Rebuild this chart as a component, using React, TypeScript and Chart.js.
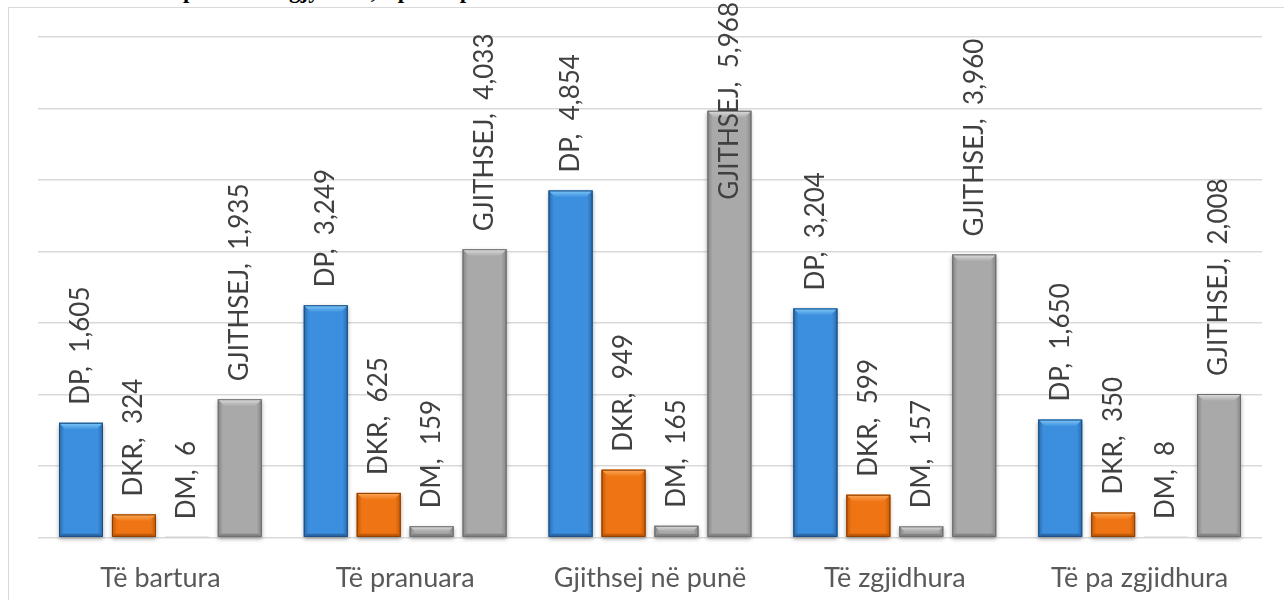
import React, { useEffect, useRef } from "react";
import { Chart, registerables } from "chart.js";

Chart.register(...registerables);

const titleText = "Numri i lëndëve për të tërë gjykatat, sipas departamenteve";
const categories = ["Të bartura", "Të pranuara", "Gjithsej në punë", "Të zgjidhura", "Të pa zgjidhura"];
const seriesNames = ["DP", "DKR", "DM", "GJITHSEJ"];
const dpValues = [1605, 3249, 4854, 3204, 1650];
const dkrValues = [324, 625, 949, 599, 350];
const dmValues = [6, 159, 165, 157, 8];
const totalValues = [1935, 4033, 5968, 3960, 2008];
const yMin = 0;
const yMax = 7000;
const yStep = 1000;

const palettes = [
  { base: "#3c8fde", light: "#7fcaf9", dark: "#2a6aab", edge: "#1d4d80" },
  { base: "#ef7514", light: "#fbaa58", dark: "#c25a06", edge: "#8a3d03" },
  { base: "#a9a9a9", light: "#dedede", dark: "#858585", edge: "#6c6c6c" },
  { base: "#a9a9a9", light: "#dedede", dark: "#858585", edge: "#6c6c6c" },
];

const fmt = (v: number) => v.toLocaleString("en-US");

const bevelPlugin = {
  id: "bevelBars",
  afterDatasetsDraw(chart: any) {
    const ctx = chart.ctx as CanvasRenderingContext2D;
    chart.data.datasets.forEach((ds: any, di: number) => {
      const meta = chart.getDatasetMeta(di);
      const pal = palettes[di];
      meta.data.forEach((el: any) => {
        const { x, y, base, width } = el.getProps(["x", "y", "base", "width"], true);
        const left = x - width / 2;
        const right = x + width / 2;
        const top = Math.min(y, base);
        const bottom = Math.max(y, base);
        const h = bottom - top;
        if (h < 1) return;
        const w = right - left;
        ctx.save();
        ctx.shadowColor = "rgba(0,0,0,0.35)";
        ctx.shadowBlur = 4;
        ctx.shadowOffsetY = 2;
        ctx.fillStyle = pal.base;
        ctx.fillRect(left, top, w, h);
        ctx.shadowColor = "transparent";
        const g = ctx.createLinearGradient(left, 0, right, 0);
        g.addColorStop(0, pal.dark);
        g.addColorStop(0.12, pal.base);
        g.addColorStop(0.88, pal.base);
        g.addColorStop(1, pal.dark);
        ctx.fillStyle = g;
        ctx.fillRect(left, top, w, h);
        const b = Math.min(7, h / 2, w / 2);
        const tg = ctx.createLinearGradient(0, top, 0, top + b);
        tg.addColorStop(0, pal.light);
        tg.addColorStop(1, pal.base);
        ctx.fillStyle = tg;
        ctx.beginPath();
        ctx.moveTo(left, top);
        ctx.lineTo(right, top);
        ctx.lineTo(right - b, top + b);
        ctx.lineTo(left + b, top + b);
        ctx.closePath();
        ctx.fill();
        const bb = Math.min(3, h / 3);
        ctx.fillStyle = pal.dark;
        ctx.beginPath();
        ctx.moveTo(left, bottom);
        ctx.lineTo(right, bottom);
        ctx.lineTo(right - bb, bottom - bb);
        ctx.lineTo(left + bb, bottom - bb);
        ctx.closePath();
        ctx.fill();
        ctx.strokeStyle = pal.edge;
        ctx.lineWidth = 1;
        ctx.strokeRect(left + 0.5, top + 0.5, w - 1, h - 1);
        ctx.restore();
      });
    });
    ctx.save();
    ctx.font = "26px Lato";
    ctx.fillStyle = "#404040";
    chart.data.datasets.forEach((ds: any, di: number) => {
      const meta = chart.getDatasetMeta(di);
      meta.data.forEach((el: any, i: number) => {
        const { x, y } = el.getProps(["x", "y"], true);
        const text = `${seriesNames[di]},  ${fmt(ds.data[i])}`;
        const tw = ctx.measureText(text).width;
        let startY = y - 18;
        if (startY - tw < 2) startY = 2 + tw;
        ctx.save();
        ctx.translate(x, startY);
        ctx.rotate(-Math.PI / 2);
        ctx.textAlign = "left";
        ctx.textBaseline = "middle";
        ctx.fillText(text, 0, 0);
        ctx.restore();
      });
    });
    ctx.restore();
  },
};

export default function App() {
  const canvasRef = useRef<HTMLCanvasElement | null>(null);

  useEffect(() => {
    if (!canvasRef.current) return;
    const valueSets = [dpValues, dkrValues, dmValues, totalValues];
    const chart = new Chart(canvasRef.current, {
      type: "bar",
      data: {
        labels: categories,
        datasets: seriesNames.map((name, i) => ({
          label: name,
          data: valueSets[i],
          backgroundColor: palettes[i].base,
          borderWidth: 0,
          categoryPercentage: 0.865,
          barPercentage: 0.83,
        })),
      },
      options: {
        responsive: false,
        animation: false,
        layout: { padding: { left: 38, right: 22, top: 37, bottom: 0 } },
        plugins: {
          legend: { display: false },
          title: { display: false },
          tooltip: { enabled: false },
        },
        scales: {
          x: {
            grid: { display: false, drawTicks: false },
            border: { display: false },
            ticks: {
              color: "#595959",
              font: { family: "Lato", size: 27 },
              padding: 24,
              maxRotation: 0,
              autoSkip: false,
            },
          },
          y: {
            min: yMin,
            max: yMax,
            ticks: { display: false, stepSize: yStep },
            grid: { color: "#d9d9d9", lineWidth: 1.5, drawTicks: false },
            border: { display: false },
          },
        },
      },
      plugins: [bevelPlugin],
    });
    return () => chart.destroy();
  }, []);

  return (
    <div
      style={{
        position: "fixed",
        left: 0,
        top: 0,
        width: 1284,
        height: 600,
        overflow: "hidden",
        background: "#ffffff",
      }}
    >
      <div
        style={{
          position: "absolute",
          left: 20,
          top: -20,
          font: "bold 23px 'Liberation Serif'",
          lineHeight: "22px",
          whiteSpace: "nowrap",
          color: "#000",
        }}
      >
        {titleText}
      </div>
      <div
        style={{
          position: "absolute",
          left: 8,
          top: 7,
          width: 1300,
          height: 620,
          border: "1px solid #d9d9d9",
          boxSizing: "border-box",
        }}
      />
      <canvas
        ref={canvasRef}
        width={1284}
        height={618}
        style={{ position: "absolute", left: 0, top: 0, width: 1284, height: 618 }}
      />
    </div>
  );
}
